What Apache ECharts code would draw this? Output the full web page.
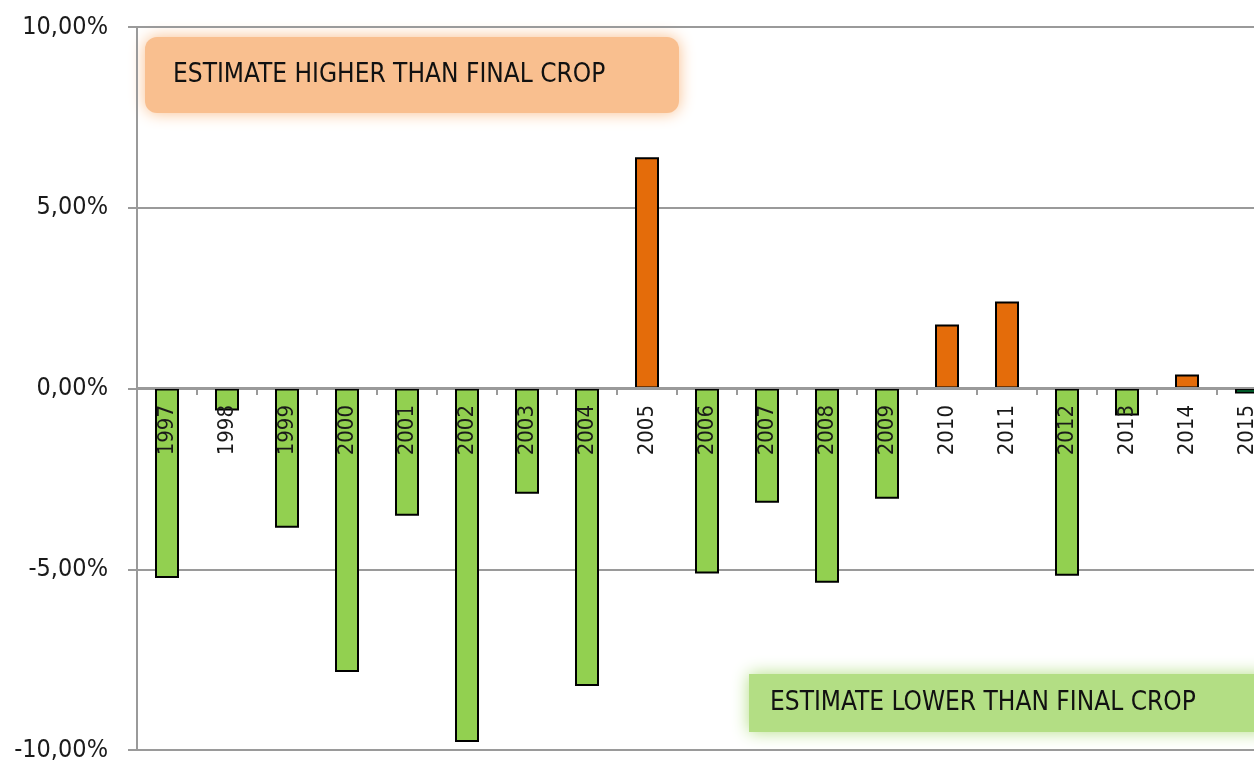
<!DOCTYPE html>
<html>
<head>
<meta charset="utf-8">
<script src="https://cdn.jsdelivr.net/npm/echarts@6/dist/echarts.min.js"></script>
<style>
html,body{margin:0;padding:0;background:#fff;}
#chart{width:1254px;height:763px;}
</style>
</head>
<body>
<div id="chart"></div>
<script>
var years = ['1997','1998','1999','2000','2001','2002','2003','2004','2005','2006','2007','2008','2009','2010','2011','2012','2013','2014','2015'];
var deviation = [-5.24,-0.61,-3.85,-7.84,-3.52,-9.78,-2.91,-8.23,6.40,-5.12,-3.16,-5.37,-3.05,1.77,2.41,-5.18,-0.75,0.39,-0.14];
var yTicks = [-10, -5, 0, 5, 10];
var noteHigh = 'ESTIMATE HIGHER THAN FINAL CROP';
var noteLow = 'ESTIMATE LOWER THAN FINAL CROP';
var lastYear = '2015';

var FONT = '"DejaVu Sans Condensed", "Liberation Sans", sans-serif';
var chart = echarts.init(document.getElementById('chart'));
var option = {
  animation: false,
  backgroundColor: '#ffffff',
  grid: { left: 137, right: -23, top: 27, bottom: 13, containLabel: false, outerBoundsMode: 'none' },
  xAxis: {
    type: 'category',
    data: years,
    z: 10,
    offset: -362,
    axisLine: { onZero: false, lineStyle: { color: '#9a9a9a', width: 2 } },
    axisTick: { show: true, length: 7, inside: false, lineStyle: { color: '#9a9a9a', width: 2 } },
    axisLabel: { rotate: 90, interval: 0, margin: 17, color: '#1a1a1a', fontSize: 22, fontFamily: FONT }
  },
  yAxis: {
    type: 'value',
    min: yTicks[0],
    max: yTicks[yTicks.length - 1],
    interval: yTicks[1] - yTicks[0],
    axisLine: { show: true, lineStyle: { color: '#9a9a9a', width: 2 } },
    axisTick: { show: true, length: 9, lineStyle: { color: '#9a9a9a', width: 2 } },
    splitLine: { show: true, lineStyle: { color: '#9a9a9a', width: 2 } },
    axisLabel: {
      margin: 29, color: '#1a1a1a', fontSize: 25, fontFamily: FONT,
      formatter: function (v) { return v.toFixed(2).replace('.', ',') + '%'; }
    }
  },
  series: [{
    type: 'bar',
    data: deviation,
    barWidth: 24,
    itemStyle: {
      borderColor: '#000000',
      borderWidth: 2,
      color: function (p) {
        if (years[p.dataIndex] === lastYear) return '#00b050';
        return p.value > 0 ? '#e46c0a' : '#92d050';
      }
    }
  }],
  graphic: [
    {
      type: 'group', left: 145, top: 37, z: 5,
      children: [
        { type: 'rect', shape: { x: 0, y: 0, width: 534, height: 76, r: 12 },
          style: { fill: '#f9bf8f', shadowBlur: 16, shadowColor: 'rgba(249,190,140,1)' } },
        { type: 'text', x: 28, y: 38,
          style: { text: noteHigh, fill: '#111', font: '26px ' + FONT, textVerticalAlign: 'middle', verticalAlign: 'middle' } }
      ]
    },
    {
      type: 'group', left: 749, top: 674, z: 5,
      children: [
        { type: 'rect', shape: { x: 0, y: 0, width: 520, height: 58 },
          style: { fill: '#b3de84', shadowBlur: 16, shadowColor: 'rgba(179,222,132,1)' } },
        { type: 'text', x: 21, y: 29,
          style: { text: noteLow, fill: '#111', font: '26px ' + FONT, textVerticalAlign: 'middle', verticalAlign: 'middle' } }
      ]
    }
  ]
};
chart.setOption(option);
</script>
</body>
</html>
